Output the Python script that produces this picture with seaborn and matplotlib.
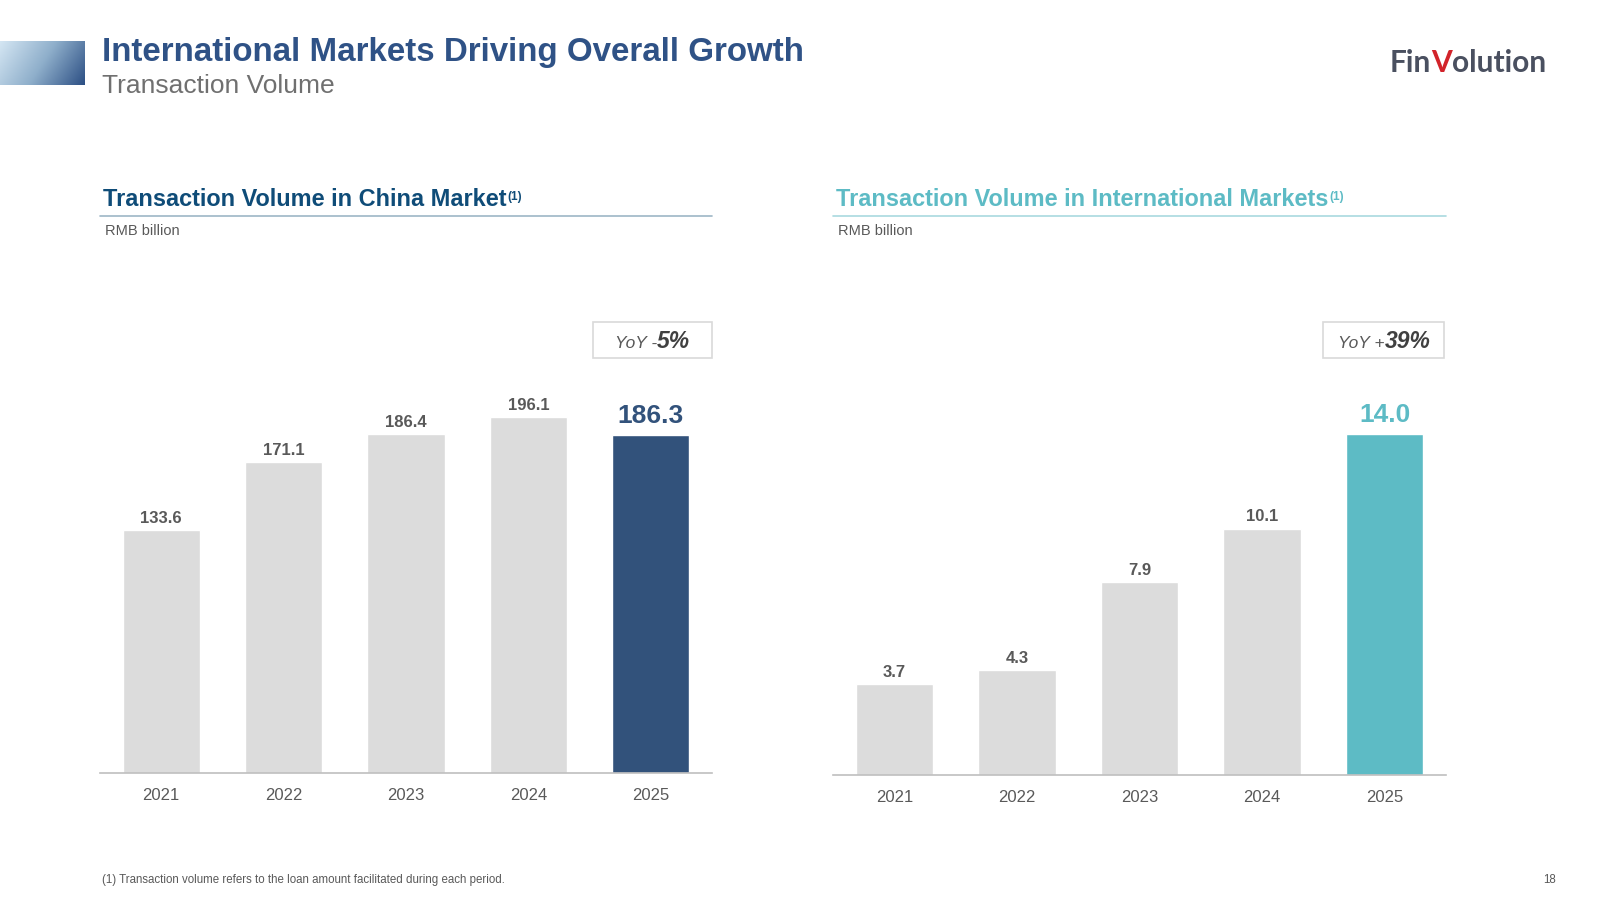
import numpy as np
import pandas as pd
import matplotlib
matplotlib.use("Agg")
import matplotlib.pyplot as plt
from matplotlib.patches import Rectangle
from matplotlib.colors import LinearSegmentedColormap
import seaborn as sns

# ---------------- data ----------------
years = ["2021", "2022", "2023", "2024", "2025"]
china_values = [133.6, 171.1, 186.4, 196.1, 186.3]
intl_values = [3.7, 4.3, 7.9, 10.1, 14.0]
china_yoy = "5%"
intl_yoy = "39%"

main_title = "International Markets Driving Overall Growth"
sub_title = "Transaction Volume"
china_title = "Transaction Volume in China Market"
intl_title = "Transaction Volume in International Markets"
unit_label = "RMB billion"
footnote = "(1) Transaction volume refers to the loan amount facilitated during each period."
page_no = "18"

# ---------------- style ----------------
sns.set_theme(style="white")
plt.rcParams["font.family"] = ["Liberation Sans", "DejaVu Sans"]

GRAY_BAR = "#DCDCDC"
NAVY = "#32527B"
TEAL = "#5DBBC5"
TITLE_BLUE = "#2F5286"
HEAD_BLUE = "#0F4C78"
LABEL_GRAY = "#595959"

W, H = 1600, 900
fig = plt.figure(figsize=(16, 9), dpi=100)
fig.patch.set_facecolor("white")


def fx(px):
    return px / W


def fy(py):
    return 1 - py / H


# gradient square top-left
gax = fig.add_axes([0, fy(85), fx(85), (85 - 41) / H])
gx, gy = np.meshgrid(np.linspace(0, 1, 200), np.linspace(0, 1, 100))
grad = 0.75 * gx + 0.25 * gy
cmap = LinearSegmentedColormap.from_list("g", ["#D4E6F3", "#8FAFCB", "#2C4F84"])
gax.imshow(grad, cmap=cmap, aspect="auto", extent=[0, 1, 0, 1], origin="upper")
gax.axis("off")

fig.text(fx(102), fy(52), main_title, fontsize=23.9, fontweight="bold",
         color=TITLE_BLUE, va="center", ha="left")
fig.text(fx(102), fy(86), sub_title, fontsize=19, color="#707070",
         va="center", ha="left")

renderer = fig.canvas.get_renderer()


def text_run(x_px, y_px, parts, va="center"):
    """Draw consecutive text pieces; parts = list of (text, kwargs)."""
    x = x_px
    for s, kw in parts:
        t = fig.text(fx(x), fy(y_px), s, ha="left", va=va, **kw)
        bb = t.get_window_extent(renderer=renderer)
        x += bb.width
    return x


# logo
logo_kw = dict(fontsize=21.5, fontweight="bold", family=["Lato", "DejaVu Sans"])
text_run(1390, 63, [("Fin", dict(color="#4A5060", **logo_kw)),
                    ("V", dict(color="#D2232A", **logo_kw)),
                    ("olution", dict(color="#4A5060", **logo_kw))])


def panel(left, right, baseline, values, hi_color, ylim_top, title, title_color,
          line_color, yoy_sign, yoy_val, box_left, box_right, split_x):
    ax = fig.add_axes([fx(left), fy(baseline), fx(right - left), (baseline - 300) / H])
    df = pd.DataFrame({"year": years, "value": values})
    pal = [GRAY_BAR] * (len(years) - 1) + [hi_color]
    sns.barplot(data=df, x="year", y="value", hue="year", palette=pal,
                legend=False, width=0.63, ax=ax, saturation=1)
    ax.set_xlim(-0.5, len(years) - 0.5)
    ax.set_ylim(0, ylim_top)
    for sp in ["top", "right", "left"]:
        ax.spines[sp].set_visible(False)
    ax.spines["bottom"].set_color("#BFBFBF")
    ax.spines["bottom"].set_linewidth(1.2)
    ax.set_yticks([])
    ax.set_xlabel("")
    ax.set_ylabel("")
    ax.tick_params(axis="x", length=0, pad=11, labelsize=12, labelcolor=LABEL_GRAY)
    ax.set_facecolor("none")
    for i, v in enumerate(values):
        last = i == len(values) - 1
        ax.annotate(f"{v:.1f}", xy=(i, v), xytext=(0, 3 if not last else 5),
                    textcoords="offset points", ha="center", va="bottom",
                    fontsize=19 if last else 12, fontweight="bold",
                    color=hi_color if last else LABEL_GRAY)
    # header
    x_end = text_run(left + 3, 200, [(title, dict(fontsize=16.9, fontweight="bold",
                                                    color=title_color))])
    fig.text(fx(x_end + 1), fy(197), "(1)", fontsize=8.5, fontweight="bold",
             color=title_color, ha="left", va="center")
    fig.add_artist(plt.Line2D([fx(left), fx(right)], [fy(216), fy(216)],
                              color=line_color, lw=1.2))
    fig.text(fx(left + 5), fy(231), unit_label, fontsize=10.5, color=LABEL_GRAY,
             ha="left", va="center")
    # YoY box
    fig.add_artist(Rectangle((fx(box_left), fy(358)), fx(box_right - box_left),
                             (358 - 322) / H, facecolor="white",
                             edgecolor="#D9D9D9", lw=1.2))
    fig.text(fx(split_x), fy(343), f"YoY {yoy_sign}", fontsize=12.5, style="italic",
             color=LABEL_GRAY, ha="right", va="center")
    fig.text(fx(split_x), fy(341), yoy_val, fontsize=16.5, style="italic",
             fontweight="bold", color="#404040", ha="left", va="center")
    return ax


panel(100, 712, 773, china_values, NAVY, 473 / 1.816, china_title, HEAD_BLUE,
      "#9DB6C6", "-", china_yoy, 593, 712, 657)
panel(833, 1446, 774.5, intl_values, TEAL, 474.5 / 24.35, intl_title, TEAL,
      "#A9D9DF", "+", intl_yoy, 1323, 1444, 1385)

fig.text(fx(102), fy(880), footnote, fontsize=8.3, color=LABEL_GRAY,
         ha="left", va="center")
fig.text(fx(1556), fy(880), page_no, fontsize=8.3, color=LABEL_GRAY,
         ha="right", va="center")

fig.savefig("out.png", dpi=100, facecolor="white")
